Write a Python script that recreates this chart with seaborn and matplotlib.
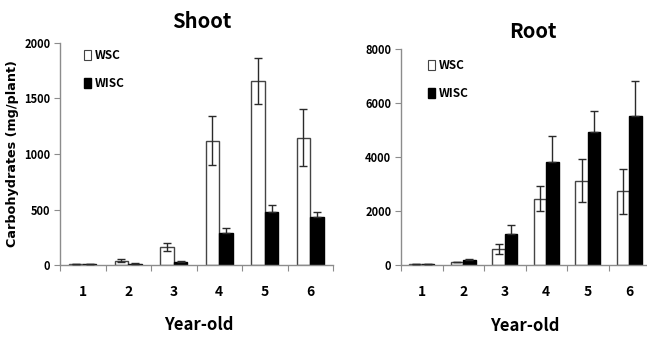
import matplotlib
matplotlib.use("Agg")
import matplotlib.pyplot as plt
import seaborn as sns
import pandas as pd
import numpy as np
from matplotlib.patches import Patch

years = ["1", "2", "3", "4", "5", "6"]
series = ["WSC", "WISC"]

shoot_wsc = [12, 41, 162, 1117, 1658, 1147]
shoot_wsc_err = [3, 13, 36, 220, 205, 258]
shoot_wisc = [8, 15, 33, 287, 479, 431]
shoot_wisc_err = [2, 3, 5, 47, 65, 46]

root_wsc = [38, 123, 617, 2470, 3137, 2740]
root_wsc_err = [8, 15, 180, 470, 800, 840]
root_wisc = [38, 210, 1148, 3815, 4950, 5543]
root_wisc_err = [8, 30, 350, 975, 780, 1285]

sns.set_theme(style="white")
FONT = ["Noto Sans CJK KR", "DejaVu Sans"]
plt.rcParams["font.family"] = FONT
plt.rcParams["text.color"] = "black"
plt.rcParams["axes.labelcolor"] = "black"
plt.rcParams["xtick.color"] = "black"
plt.rcParams["ytick.color"] = "black"

W, H = 647, 338
fig = plt.figure(figsize=(W / 100, H / 100), dpi=100)

def px_axes(l, r, top, bot):
    return fig.add_axes([l / W, (H - bot) / H, (r - l) / W, (bot - top) / H])

ax1 = px_axes(60, 333, 42.7, 265.3)
ax2 = px_axes(401, 650, 49.3, 265.3)

GRAY = "#8c8c8c"

def draw(ax, wsc, wsc_err, wisc, wisc_err, ymax, step):
    df = pd.DataFrame({
        "year": years * 2,
        "type": [series[0]] * len(years) + [series[1]] * len(years),
        "value": list(wsc) + list(wisc),
    })
    sns.barplot(data=df, x="year", y="value", hue="type", order=years,
                hue_order=series, palette={"WSC": "white", "WISC": "black"},
                width=0.6, gap=0, errorbar=None, ax=ax, legend=False,
                linewidth=1.0, saturation=1)
    bars = ax.patches[:2 * len(years)]
    for i, p in enumerate(bars):
        if i < len(years):
            p.set_edgecolor("#444444")
        else:
            p.set_edgecolor("black")
    xs_w = [bars[i].get_x() + bars[i].get_width() / 2 for i in range(len(years))]
    xs_b = [bars[len(years) + i].get_x() + bars[len(years) + i].get_width() / 2 for i in range(len(years))]
    ax.errorbar(xs_w, wsc, yerr=wsc_err, fmt="none", ecolor="#2a2a2a",
                elinewidth=1.0, capsize=3, capthick=1.0, zorder=5)
    ax.errorbar(xs_b, wisc, yerr=[np.zeros(len(wisc)), wisc_err], fmt="none",
                ecolor="#2a2a2a", elinewidth=1.0, capsize=3, capthick=1.0, zorder=5)
    ax.set_xlim(-0.5, len(years) - 0.5)
    ax.set_ylim(0, ymax)
    ax.set_yticks(np.arange(0, ymax + 1, step))
    ax.set_xticks(range(len(years)))
    ax.set_xticklabels(years)
    ax.set_xticks(np.arange(-0.5, len(years), 1.0), minor=True)
    ax.tick_params(axis="x", which="major", length=0, pad=14, labelsize=10)
    ax.tick_params(axis="x", which="minor", length=4, width=0.8, color=GRAY, direction="out", bottom=True)
    ax.tick_params(axis="y", length=4, width=0.8, color=GRAY, direction="out", left=True, labelsize=8, pad=3)
    for lab in ax.get_xticklabels() + ax.get_yticklabels():
        lab.set_fontweight("bold")
    for s in ["top", "right"]:
        ax.spines[s].set_visible(False)
    for s in ["left", "bottom"]:
        ax.spines[s].set_color(GRAY)
        ax.spines[s].set_linewidth(1.0)
    ax.set_xlabel("")
    ax.set_ylabel("")
    ax.set_facecolor("white")

draw(ax1, shoot_wsc, shoot_wsc_err, shoot_wisc, shoot_wisc_err, 2000, 500)
draw(ax2, root_wsc, root_wsc_err, root_wisc, root_wisc_err, 8000, 2000)

ax1.set_ylabel("Carbohydrates (mg/plant)", fontsize=9.2, fontweight="bold", labelpad=4,
               family=["DejaVu Sans"])

def ftext(x, y, s, **kw):
    fig.text(x / W, 1 - y / H, s, **kw)

ftext(202, 21, "Shoot", ha="center", va="center", fontsize=14.5, fontweight="bold")
ftext(533, 31, "Root", ha="center", va="center", fontsize=14.5, fontweight="bold")
ftext(199, 325, "Year-old", ha="center", va="center", fontsize=12, fontweight="bold")
ftext(525, 326, "Year-old", ha="center", va="center", fontsize=12, fontweight="bold")

def legend(ax, x, y, gap):
    handles = [Patch(facecolor="white", edgecolor="#444444", linewidth=0.8, label=series[0]),
               Patch(facecolor="black", edgecolor="black", label=series[1])]
    leg = ax.legend(handles=handles, loc="upper left",
                    bbox_to_anchor=(x / W, 1 - y / H), bbox_transform=fig.transFigure,
                    frameon=False, handlelength=0.6, handleheight=0.9, handletextpad=0.3,
                    labelspacing=gap, fontsize=8.5, borderpad=0, borderaxespad=0)
    for t in leg.get_texts():
        t.set_fontweight("bold")

legend(ax1, 84, 49, 1.3)
legend(ax2, 428, 59, 1.25)

fig.savefig("out.png", dpi=100, facecolor="white")
